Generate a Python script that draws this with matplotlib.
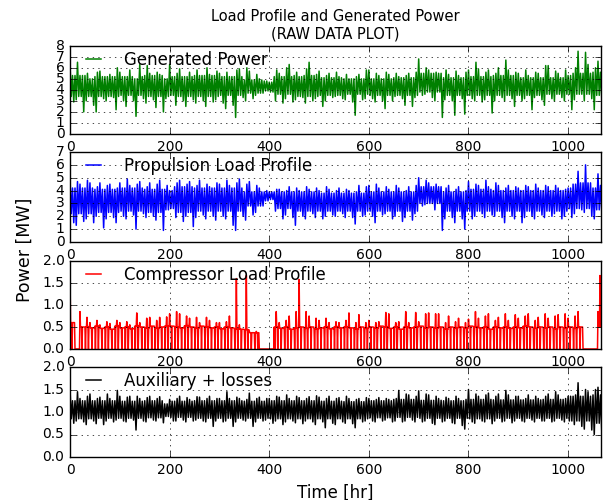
import numpy as np
import matplotlib
matplotlib.use('Agg')
from matplotlib import pyplot as plt

# data: per 10 hr bin, high and low spikes of the signal [MW]
gen_hi = [6.2, 6.5, 5.3, 5.5, 5.0, 5.6, 5.7, 5.2, 5.4, 6.0,
          5.6, 5.2, 5.8, 5.0, 6.3, 6.2, 5.5, 5.6, 5.4, 5.0,
          6.3, 5.5, 5.9, 5.2, 5.6, 5.8, 5.3, 6.0, 5.4, 5.7,
          5.5, 5.6, 5.2, 5.8, 5.9, 6.0, 5.7, 5.4, 5.0, 4.8,
          4.7, 5.8, 5.5, 6.0, 6.3, 5.6, 5.2, 5.9, 6.5, 5.4,
          5.7, 5.3, 5.5, 5.6, 5.2, 5.4, 5.0, 5.2, 5.4, 5.8,
          5.8, 5.5, 5.3, 5.6, 5.4, 5.5, 5.2, 5.3, 5.5, 5.6,
          6.8, 6.0, 5.8, 5.6, 5.5, 5.8, 5.4, 5.7, 5.3, 5.6,
          5.8, 6.5, 5.9, 5.6, 5.8, 5.5, 6.0, 6.7, 5.8, 5.6,
          5.5, 5.8, 5.3, 5.6, 5.5, 6.2, 6.2, 5.7, 5.5, 5.8,
          5.3, 6.0, 7.5, 7.4, 6.3, 6.0, 6.6]
gen_lo = [2.9, 3.1, 2.0, 3.0, 2.6, 2.0, 3.2, 3.0, 3.3, 2.2,
          3.0, 2.5, 3.0, 1.6, 3.2, 2.8, 3.1, 2.4, 2.0, 3.2,
          3.5, 2.6, 3.0, 2.5, 3.1, 2.8, 3.0, 2.5, 2.9, 3.1,
          2.8, 2.3, 2.6, 1.5, 3.3, 3.0, 3.2, 3.5, 3.7, 3.9,
          3.8, 3.0, 2.8, 3.2, 2.9, 3.1, 3.3, 2.8, 3.0, 3.2,
          2.5, 3.0, 3.3, 3.4, 3.2, 3.1, 2.9, 1.7, 3.1, 3.2,
          3.2, 2.9, 3.0, 2.3, 3.0, 3.4, 3.2, 2.6, 2.5, 3.3,
          3.5, 3.6, 3.3, 3.0, 1.5, 3.1, 3.0, 1.7, 3.2, 1.8,
          3.2, 3.0, 2.9, 3.1, 1.9, 3.0, 3.3, 3.0, 3.2, 2.5,
          3.0, 3.2, 2.2, 3.3, 3.1, 2.6, 3.2, 3.0, 3.3, 3.0,
          2.2, 3.1, 3.6, 3.0, 3.2, 2.2, 3.3]
# solid core of the band, per 50 hr
gen_core_hi = [5.3, 5.2, 5.2, 5.3, 5.2, 5.3, 5.2, 4.9, 5.2, 5.3, 5.1,
               5.0, 5.0, 5.1, 5.5, 5.1, 5.2, 5.3, 5.1, 5.1, 5.5, 5.6]
gen_core_lo = [3.4, 3.4, 3.5, 3.4, 3.4, 3.4, 3.5, 3.7, 3.6, 3.4, 3.5,
               3.6, 3.5, 3.5, 3.8, 3.5, 3.5, 3.5, 3.5, 3.6, 3.6, 3.5]

prop_hi = [4.9, 4.7, 4.5, 4.8, 4.6, 4.3, 4.6, 4.4, 4.5, 4.2,
           4.6, 4.9, 4.4, 4.5, 4.7, 4.3, 4.6, 4.5, 4.8, 4.4,
           4.0, 4.6, 4.8, 4.5, 4.7, 4.4, 4.8, 4.5, 4.3, 4.6,
           4.5, 4.8, 4.4, 4.6, 4.9, 4.5, 4.7, 4.4, 4.2, 4.0,
           3.9, 4.1, 4.1, 4.0, 4.3, 4.2, 4.0, 4.3, 4.1, 4.2,
           4.0, 4.3, 4.1, 4.0, 4.2, 4.1, 4.0, 3.9, 4.4, 4.3,
           4.4, 4.5, 4.2, 4.3, 4.1, 4.4, 4.2, 4.0, 4.3, 4.4,
           5.0, 4.8, 4.6, 4.5, 4.3, 4.2, 4.4, 4.1, 4.3, 4.0,
           4.7, 4.5, 4.4, 4.8, 4.3, 4.6, 4.4, 4.2, 4.4, 4.3,
           4.2, 4.4, 4.3, 4.5, 4.2, 4.4, 4.3, 4.4, 4.2, 4.1,
           4.2, 4.5, 5.5, 6.0, 4.6, 4.2, 5.3]
prop_lo = [1.5, 1.3, 1.6, 1.8, 1.5, 2.0, 1.1, 1.8, 1.9, 1.5,
           2.0, 1.8, 2.1, 1.0, 2.2, 1.9, 2.0, 1.7, 0.9, 2.5,
           2.6, 1.9, 1.6, 2.0, 1.2, 1.9, 2.1, 1.8, 2.0, 1.7,
           2.0, 1.8, 1.3, 0.9, 2.0, 1.7, 2.1, 2.3, 2.8, 3.2,
           3.3, 2.4, 1.8, 2.1, 1.9, 1.3, 2.0, 1.8, 2.2, 1.9,
           1.8, 2.0, 2.1, 2.0, 2.2, 1.9, 1.9, 1.4, 2.0, 2.1,
           2.0, 1.5, 2.1, 2.2, 1.8, 2.0, 1.6, 1.9, 1.7, 2.2,
           2.8, 2.9, 3.0, 2.5, 0.9, 1.8, 1.9, 1.5, 1.8, 1.0,
           1.8, 2.0, 2.2, 1.9, 2.1, 2.0, 1.9, 1.5, 2.0, 1.8,
           1.5, 1.9, 2.0, 1.8, 2.1, 1.9, 2.0, 2.2, 1.8, 2.0,
           1.9, 2.2, 2.5, 2.3, 2.0, 1.8, 2.4]
prop_core_hi = [4.2, 4.1, 4.2, 4.1, 4.3, 4.2, 4.2, 3.9, 3.9, 3.9, 3.8,
                3.8, 3.9, 3.9, 4.3, 3.9, 4.1, 4.0, 4.0, 4.0, 4.6, 4.4]
prop_core_lo = [2.2, 2.3, 2.4, 2.3, 2.3, 2.4, 2.4, 2.8, 2.6, 2.4, 2.4,
                2.4, 2.4, 2.4, 3.0, 2.4, 2.4, 2.4, 2.4, 2.4, 2.6, 2.5]

# compressor: per 10 hr bin, peak / on-level / off-level
comp_top = [1.68, 0.0, 0.85,
            0.72, 0.6, 0.65, 0.55, 0.62, 0.58, 0.65, 0.6, 0.62, 0.55, 0.82, 0.6, 0.7, 0.72, 0.65, 0.72, 0.73,
            0.8, 0.85, 0.8, 0.75, 0.7, 0.72, 0.6, 0.72, 0.65, 0.6, 0.6, 0.62, 0.75,
            1.6, 0.55, 1.67, 0.4, 0.4, 0.0, 0.0, 0.0,
            0.85, 0.6, 0.65, 0.75, 0.85, 1.58, 0.85, 0.75, 0.7, 0.65, 0.7, 0.6, 0.62, 0.6,
            0.65, 0.82, 0.6, 0.78, 0.6, 0.65, 0.6, 0.62, 0.83, 0.8, 0.6, 0.62, 0.85, 0.6, 0.83, 0.62,
            0.8, 0.82, 0.8, 0.8, 0.6, 0.75, 0.62, 0.7, 0.6, 0.68, 0.85, 0.7, 0.75, 0.8, 0.65, 0.72,
            0.8, 0.65, 0.78, 0.7, 0.75, 0.8, 0.65, 0.72, 0.8, 0.7, 0.75, 0.78, 0.8, 0.7, 0.75, 0.85,
            0.0, 0.0, 0.0, 0.85]
comp_base = [0.6, 0.0, 0.5,
             0.5, 0.48, 0.52, 0.47, 0.5, 0.45, 0.52, 0.48, 0.5, 0.46, 0.52, 0.5, 0.48, 0.52, 0.47, 0.5, 0.52,
             0.52, 0.5, 0.48, 0.53, 0.5, 0.47, 0.52, 0.5, 0.48, 0.5, 0.46, 0.5, 0.48,
             0.45, 0.45, 0.44, 0.37, 0.37, 0.0, 0.0, 0.0,
             0.5, 0.47, 0.5, 0.45, 0.48, 0.5, 0.47, 0.5, 0.45, 0.48, 0.5, 0.46, 0.5, 0.48,
             0.5, 0.48, 0.45, 0.5, 0.47, 0.5, 0.48, 0.52, 0.5, 0.47, 0.5, 0.45, 0.5, 0.48, 0.5, 0.52,
             0.48, 0.5, 0.47, 0.5, 0.45, 0.5, 0.48, 0.5, 0.47, 0.52, 0.5, 0.48, 0.5, 0.45, 0.5, 0.48,
             0.5, 0.47, 0.5, 0.48, 0.52, 0.5, 0.47, 0.5, 0.48, 0.5, 0.45, 0.5, 0.48, 0.5, 0.47, 0.5,
             0.0, 0.0, 0.0, 0.5]
comp_low = [0.0] * 106 + [1.67]

aux_hi = [1.5, 1.45, 1.3, 1.35, 1.4, 1.3, 1.33, 1.4, 1.3, 1.48,
          1.35, 1.33, 1.35, 1.35, 1.3, 1.32, 1.35, 1.3, 1.34, 1.18,
          1.28, 1.3, 1.35, 1.32, 1.28, 1.34, 1.33, 1.3, 1.35, 1.3,
          1.3, 1.45, 1.3, 1.33, 1.3, 1.28, 1.42, 1.3, 1.33, 1.3,
          1.3, 1.35, 1.33, 1.38, 1.3, 1.35, 1.32, 1.3, 1.34, 1.36,
          1.33, 1.3, 1.35, 1.3, 1.32, 1.35, 1.3, 1.28, 1.3, 1.32,
          1.3, 1.28, 1.32, 1.3, 1.28, 1.3, 1.48, 1.4, 1.38, 1.35,
          1.47, 1.4, 1.38, 1.35, 1.3, 1.33, 1.3, 1.35, 1.3, 1.28,
          1.5, 1.4, 1.35, 1.38, 1.42, 1.35, 1.4, 1.48, 1.38, 1.35,
          1.35, 1.3, 1.38, 1.35, 1.3, 1.35, 1.4, 1.45, 1.38, 1.3,
          1.35, 1.38, 1.65, 1.5, 1.45, 1.5, 1.55]
aux_lo = [0.75, 0.8, 0.78, 0.72, 0.8, 0.74, 0.72, 0.8, 0.78, 0.82,
          0.8, 0.78, 0.82, 0.6, 0.8, 0.78, 0.82, 0.8, 0.76, 0.9,
          0.8, 0.8, 0.82, 0.78, 0.8, 0.82, 0.8, 0.78, 0.68, 0.8,
          0.78, 0.8, 0.68, 0.78, 0.82, 0.8, 0.68, 0.78, 0.8, 0.82,
          0.75, 0.8, 0.72, 0.78, 0.8, 0.76, 0.74, 0.8, 0.78, 0.72,
          0.78, 0.65, 0.75, 0.72, 0.78, 0.75, 0.74, 0.65, 0.78, 0.8,
          0.8, 0.78, 0.8, 0.82, 0.78, 0.8, 0.78, 0.8, 0.82, 0.78,
          0.78, 0.8, 0.75, 0.72, 0.78, 0.8, 0.76, 0.74, 0.7, 0.62,
          0.78, 0.75, 0.8, 0.78, 0.74, 0.8, 0.78, 0.8, 0.76, 0.8,
          0.8, 0.78, 0.82, 0.78, 0.8, 0.8, 0.78, 0.8, 0.82, 0.78,
          0.8, 0.72, 0.68, 0.62, 0.6, 0.5, 0.6]
aux_core_hi = [1.25, 1.25, 1.24, 1.25, 1.24, 1.25, 1.25, 1.24, 1.25, 1.25, 1.24,
               1.23, 1.25, 1.28, 1.26, 1.25, 1.28, 1.27, 1.27, 1.28, 1.35, 1.38]
aux_core_lo = [0.85, 0.86, 0.86, 0.87, 0.88, 0.86, 0.86, 0.86, 0.85, 0.85, 0.85,
               0.85, 0.87, 0.88, 0.86, 0.86, 0.85, 0.86, 0.86, 0.86, 0.80, 0.75]

t_end = 1066.

# Style
plt.style.use('classic')
plt.rcParams['figure.facecolor'] = 'white'
plt.rcParams['savefig.facecolor'] = 'white'
plt.rcParams['xtick.labelsize'] = 10
plt.rcParams['ytick.labelsize'] = 10


def trace(hi, lo, core_hi, core_lo):
    hi = np.asarray(hi)
    lo = np.asarray(lo)
    seg = np.arange(len(hi)) // 5
    chi = np.minimum(np.asarray(core_hi)[seg], hi)
    clo = np.maximum(np.asarray(core_lo)[seg], lo)
    # 4 samples per 10 hr bin, order swapped on odd bins
    even = np.column_stack([hi, clo, chi, lo])
    odd = np.column_stack([chi, lo, hi, clo])
    y = np.where((np.arange(len(hi)) % 2 == 0)[:, None], even, odd).ravel()
    t = np.arange(len(y)) * 2.5
    return t, y


def comp_trace(top, base, low):
    # 10 samples per 10 hr bin, one switch-off on even bins, two on odd bins
    top = np.asarray(top)
    base = np.asarray(base)
    low = np.asarray(low)
    even = np.column_stack([top, base, base, base, low,
                            base, base, base, base, base])
    odd = np.column_stack([base, low, base, base, top,
                           base, base, low, base, base])
    y = np.where((np.arange(len(top)) % 2 == 0)[:, None], even, odd).ravel()
    t = np.arange(len(y)) * 1.
    return t, y


fig = plt.figure(figsize=(6.11, 5.0), dpi=100)
left, width = 0.1146, 0.869
rects = [[left, 0.732, width, 0.1766],
         [left, 0.516, width, 0.180],
         [left, 0.302, width, 0.176],
         [left, 0.086, width, 0.180]]

panels = [(trace(gen_hi, gen_lo, gen_core_hi, gen_core_lo), 'g', 'Generated Power', 8, 1),
          (trace(prop_hi, prop_lo, prop_core_hi, prop_core_lo), 'b', 'Propulsion Load Profile', 7, 1),
          (comp_trace(comp_top, comp_base, comp_low), 'r', 'Compressor Load Profile', 2, 0.5),
          (trace(aux_hi, aux_lo, aux_core_hi, aux_core_lo), 'k', 'Auxiliary + losses', 2, 0.5)]

axs = []
for rect, ((t, y), c, name, ymax, step) in zip(rects, panels):
    ax = fig.add_axes(rect)
    ax.plot(t, y, color=c, lw=1.1, label=name)
    ax.set_xlim(0, t_end)
    ax.set_ylim(0, ymax)
    ax.set_yticks(np.arange(0, ymax + step / 2, step))
    ax.set_xticks(np.arange(0, 1001, 200))
    ax.grid(True)
    ax.legend(loc='upper left', frameon=False, fontsize=12, handlelength=1.5,
              handletextpad=1.1, borderpad=0.3, borderaxespad=0.0,
              bbox_to_anchor=(0.011, 1.0))
    axs.append(ax)

axs[0].set_title('Load Profile and Generated Power\n(RAW DATA PLOT)', fontsize=10.5)
axs[3].set_xlabel('Time [hr]', fontsize=12)
fig.text(0.041, 0.5, 'Power [MW]', rotation=90, ha='center', va='center', fontsize=12.5)

fig.savefig('out.png', dpi=100)
